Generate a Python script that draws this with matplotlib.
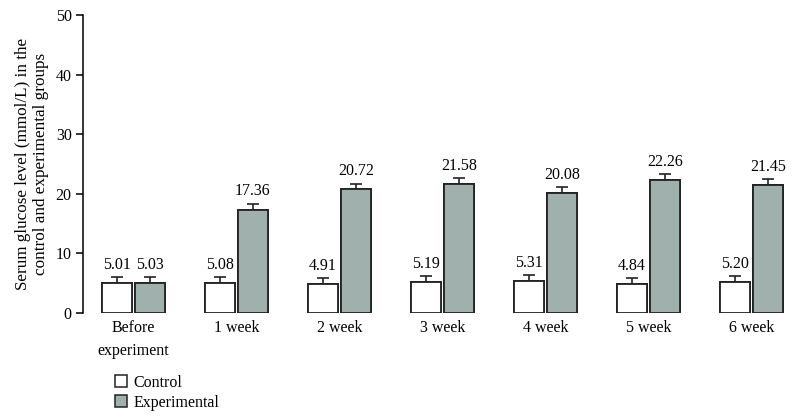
import matplotlib.pyplot as plt
from matplotlib.patches import Patch
import numpy as np

plt.rcParams['font.family'] = ['Liberation Serif', 'DejaVu Serif']

groups = ['Before\nexperiment', '1 week', '2 week', '3 week', '4 week', '5 week', '6 week']
control = [5.01, 5.08, 4.91, 5.19, 5.31, 4.84, 5.20]
experimental = [5.03, 17.36, 20.72, 21.58, 20.08, 22.26, 21.45]
control_err = [1.0, 1.0, 0.95, 1.0, 1.0, 1.0, 1.0]
exp_err = [1.0, 1.0, 1.0, 1.0, 1.0, 1.0, 1.0]

gray = '#a0b0ad'

fig = plt.figure(figsize=(7.96, 4.2), dpi=100)
ax = fig.add_axes([0.104, 0.2548, 0.888, 0.7095])

x = np.arange(len(groups))
w = 0.29
off = 0.16
ax.bar(x - off, control, w, color='white', edgecolor='#222222', linewidth=1.3,
       yerr=control_err, error_kw=dict(capsize=4, elinewidth=1.2, capthick=1.2, ecolor='#222222'))
ax.bar(x + off, experimental, w, color=gray, edgecolor='#222222', linewidth=1.3,
       yerr=exp_err, error_kw=dict(capsize=4, elinewidth=1.2, capthick=1.2, ecolor='#222222'))
# only upper error bars: cover lower halves by drawing bars again on top
ax.bar(x - off, control, w, color='white', edgecolor='#222222', linewidth=1.3, zorder=3)
ax.bar(x + off, experimental, w, color=gray, edgecolor='#222222', linewidth=1.3, zorder=3)

for xi, v, e in zip(x - off, control, control_err):
    ax.annotate(f'{v:.2f}', (xi, v + e), xytext=(0, 3), textcoords='offset points',
                ha='center', va='bottom', fontsize=11.5)
for xi, v, e in zip(x + off, experimental, exp_err):
    ax.annotate(f'{v:.2f}', (xi, v + e), xytext=(0, 3), textcoords='offset points',
                ha='center', va='bottom', fontsize=11.5)

ax.set_xlim(-0.49, 6.37)
ax.set_ylim(0, 50)
ax.set_yticks([0, 10, 20, 30, 40, 50])
ax.set_xticks(x)
ax.set_xticklabels(groups, fontsize=11.5, linespacing=1.6)
ax.tick_params(axis='x', length=0, pad=5)
ax.tick_params(axis='y', direction='out', length=5, width=1.1, labelsize=11.5, pad=3)
for s in ['top', 'right', 'bottom']:
    ax.spines[s].set_visible(False)
ax.spines['left'].set_linewidth(1.1)
ax.set_ylabel('Serum glucose level (mmol/L) in the\ncontrol and experimental groups',
              fontsize=12.3, linespacing=1.15, labelpad=5)

handles = [Patch(facecolor='white', edgecolor='#222222', linewidth=1.1),
           Patch(facecolor=gray, edgecolor='#222222', linewidth=1.1)]
fig.legend(handles, ['Control', 'Experimental'], loc='upper left',
           bbox_to_anchor=(0.145, 0.108), frameon=False, fontsize=11.5,
           handlelength=0.75, handleheight=0.75, handletextpad=0.4,
           labelspacing=0.25, borderpad=0, borderaxespad=0)

fig.savefig('out.png', dpi=100)
